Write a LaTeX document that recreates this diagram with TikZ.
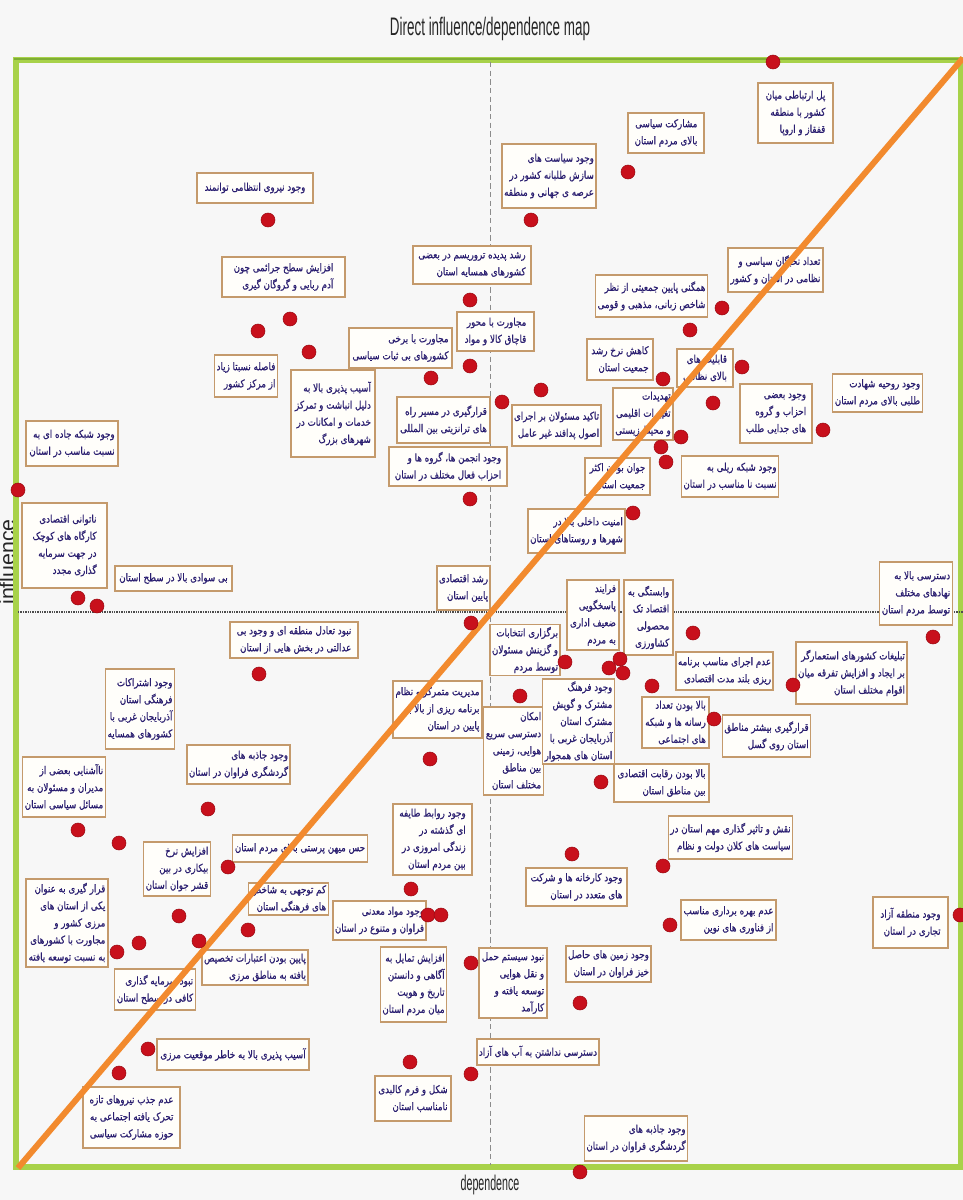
\documentclass[tikz,border=0pt]{standalone}
\usepackage{fontspec}
\TeXXeTstate=1
\newfontfamily\fa[Script=Arabic,FakeStretch=0.82,FakeBold=0.6]{DejaVu Sans}
\newfontfamily\ttl[FakeStretch=0.53]{Liberation Sans}
\newfontfamily\axf[FakeStretch=0.5]{Liberation Sans}
\newfontfamily\axg{Liberation Sans}
\newcommand\rl[1]{\beginR#1\endR}
\definecolor{bgc}{HTML}{F7F7F7}
\definecolor{framec}{HTML}{A8D24A}
\definecolor{framedk}{HTML}{7FAE35}
\definecolor{boxc}{HTML}{C49A6C}
\definecolor{boxfill}{HTML}{FFFEFA}
\definecolor{txtc}{HTML}{2A1E70}
\definecolor{dotc}{HTML}{C8101C}
\definecolor{dotdk}{HTML}{9A0A12}
\definecolor{linec}{HTML}{F28A2E}
\tikzset{
  lab/.style={draw=boxc,line width=0.9pt,fill=boxfill,text=txtc,align=right,
    font=\fa\fontsize{8}{12.8}\selectfont,inner sep=1.5pt},
  dot/.style={circle,fill=dotc,draw=dotdk,line width=0.4pt,minimum size=10.5pt,inner sep=0pt},
}
\newcommand\lbox[6]{\node[lab,minimum width={(#4-#2)*0.75pt},minimum height={(#5-#3)*0.75pt}] (#1) at ({(#2+#4)/2},{(#3+#5)/2}) {#6};}
\newcommand\dt[3]{\node[dot] (#1) at (#2,#3) {};}
\begin{document}
\begin{tikzpicture}[x=0.75pt,y=-0.75pt]
\fill[bgc] (0,0) rectangle (963,1200);
\useasboundingbox (0,0) rectangle (963,1200);
% title and axis names
\node[font=\ttl\fontsize{19}{22}\selectfont,text=black!85] (title) at (490,29) {Direct influence/dependence map};
\node[font=\axf\fontsize{16}{18}\selectfont,text=black!85] (dep) at (490,1185) {dependence};
\node[font=\axg\fontsize{16}{18}\selectfont,text=black!85,rotate=90] (inf) at (7,562) {influence};
% frame
\coordinate (tl) at (16,60); \coordinate (br) at (961,1167);
\draw[framec,line width=4pt] (tl) rectangle (br);
\draw[framedk,line width=1.5pt] (14,58.5) -- (963,58.5);
% axes
\coordinate (vt) at (490,62); \coordinate (vb) at (490,1165);
\coordinate (hl) at (18,612); \coordinate (hr) at (963,612);
\draw[black!45,line width=0.6pt,dash pattern=on 4pt off 2.5pt] (vt) -- (vb);
\draw[black!70,line width=0.9pt,dash pattern=on 1pt off 0.8pt] (hl) -- (hr);
% labels
\lbox{l1}{197}{173}{313}{203}{\rl{وجود نیروی انتظامی توانمند}}
\lbox{l2}{222}{257}{345}{297}{\rl{افزایش سطح جرائمی چون}\\\rl{آدم ربایی و گروگان گیری}}
\lbox{l3}{758}{83}{833}{143}{\rl{پل ارتباطی میان}\\\rl{کشور با منطقه}\\\rl{قفقاز و اروپا}}
\lbox{l4}{628}{113}{704}{153}{\rl{مشارکت سیاسی}\\\rl{بالای مردم استان}}
\lbox{l5}{502}{144}{596}{208}{\rl{وجود سیاست های}\\\rl{سازش طلبانه کشور در}\\\rl{عرصه ی جهانی و منطقه}}
\lbox{l6}{413}{246}{531}{284}{\rl{رشد پدیده تروریسم در بعضی}\\\rl{کشورهای همسایه استان}}
\lbox{l7}{728}{248}{823}{292}{\rl{تعداد نخبگان سیاسی و}\\\rl{نظامی در استان و کشور}}
\lbox{l8}{597}{275}{706}{317}{\rl{همگنی پایین جمعیتی از نظر}\\\rl{شاخص زبانی، مذهبی و قومی}}
\lbox{l9}{587}{339}{653}{380}{\rl{کاهش نرخ رشد}\\\rl{جمعیت استان}}
\lbox{l10}{677}{349}{733}{387}{\rl{قابلیت های}\\\rl{بالای نظامی}}
\lbox{l11}{613}{388}{673}{440}{\rl{تهدیدات}\\\rl{تغییرات اقلیمی}\\\rl{و محیط زیستی}}
\lbox{l12}{740}{384}{812}{443}{\rl{وجود بعضی}\\\rl{احزاب و گروه}\\\rl{های جدایی طلب}}
\lbox{l13}{833}{374}{922}{412}{\rl{وجود روحیه شهادت}\\\rl{طلبی بالای مردم استان}}
\lbox{l14}{682}{456}{778}{497}{\rl{وجود شبکه ریلی به}\\\rl{نسبت نا مناسب در استان}}
\lbox{l15}{585}{458}{650}{495}{\rl{جوان بودن اکثر}\\\rl{جمعیت استان}}
\lbox{l16}{528}{509}{625}{553}{\rl{امنیت داخلی بالا در}\\\rl{شهرها و روستاهای استان}}
\lbox{l17}{513}{405}{600}{446}{\rl{تاکید مسئولان بر اجرای}\\\rl{اصول پدافند غیر عامل}}
\lbox{l18}{397}{397}{490}{443}{\rl{قرارگیری در مسیر راه}\\\rl{های ترانزیتی بین المللی}}
\lbox{l19}{389}{447}{507}{486}{\rl{وجود انجمن ها، گروه ها و}\\\rl{احزاب فعال مختلف در استان}}
\lbox{l20}{457}{312}{534}{351}{\rl{مجاورت با محور}\\\rl{قاچاق کالا و مواد}}
\lbox{l21}{349}{328}{452}{368}{\rl{مجاورت با برخی}\\\rl{کشورهای بی ثبات سیاسی}}
\lbox{l22}{291}{370}{375}{457}{\rl{آسیب پذیری بالا به}\\\rl{دلیل انباشت و تمرکز}\\\rl{خدمات و امکانات در}\\\rl{شهرهای بزرگ}}
\lbox{l23}{215}{355}{277}{397}{\rl{فاصله نسبتا زیاد}\\\rl{از مرکز کشور}}
\lbox{l24}{26}{421}{118}{466}{\rl{وجود شبکه جاده ای به}\\\rl{نسبت مناسب در استان}}
\lbox{l25}{22}{503}{107}{588}{\rl{ناتوانی اقتصادی}\\\rl{کارگاه های کوچک}\\\rl{در جهت سرمایه}\\\rl{گذاری مجدد}}
\lbox{l26}{115}{566}{232}{591}{\rl{بی سوادی بالا در سطح استان}}
\lbox{l27}{440}{566}{487}{610}{\rl{رشد اقتصادی}\\\rl{پایین استان}}
\lbox{l28}{880}{562}{952}{625}{\rl{دسترسی بالا به}\\\rl{نهادهای مختلف}\\\rl{توسط مردم استان}}
\lbox{l29}{567}{580}{619}{650}{\rl{فرایند}\\\rl{پاسخگویی}\\\rl{ضعیف اداری}\\\rl{به مردم}}
\lbox{l30}{624}{580}{673}{655}{\rl{وابستگی به}\\\rl{اقتصاد تک}\\\rl{محصولی}\\\rl{کشاورزی}}
\lbox{l31}{493}{625}{557}{675}{\rl{برگزاری انتخابات}\\\rl{و گزینش مسئولان}\\\rl{توسط مردم}}
\lbox{l32}{230}{622}{358}{658}{\rl{نبود تعادل منطقه ای و وجود بی}\\\rl{عدالتی در بخش هایی از استان}}
\lbox{l33}{393}{681}{482}{738}{\rl{مدیریت متمرکز و نظام}\\\rl{برنامه ریزی از بالا به}\\\rl{پایین در استان}}
\lbox{l34}{488}{707}{539}{795}{\rl{امکان}\\\rl{دسترسی سریع}\\\rl{هوایی، زمینی}\\\rl{بین مناطق}\\\rl{مختلف استان}}
\lbox{l35}{544}{679}{613}{764}{\rl{وجود فرهنگ}\\\rl{مشترک و گویش}\\\rl{مشترک استان}\\\rl{آذربایجان غربی با}\\\rl{استان های همجوار}}
\lbox{l36}{642}{697}{709}{748}{\rl{بالا بودن تعداد}\\\rl{رسانه ها و شبکه}\\\rl{های اجتماعی}}
\lbox{l37}{676}{652}{773}{690}{\rl{عدم اجرای مناسب برنامه}\\\rl{ریزی بلند مدت اقتصادی}}
\lbox{l38}{807}{642}{896}{704}{\rl{تبلیغات کشورهای استعمارگر}\\\rl{بر ایجاد و افزایش تفرقه میان}\\\rl{اقوام مختلف استان}}
\lbox{l39}{724}{715}{809}{757}{\rl{قرارگیری بیشتر مناطق}\\\rl{استان روی گسل}}
\lbox{l40}{614}{764}{709}{802}{\rl{بالا بودن رقابت اقتصادی}\\\rl{بین مناطق استان}}
\lbox{l41}{669}{816}{792}{859}{\rl{نقش و تاثیر گذاری مهم استان در}\\\rl{سیاست های کلان دولت و نظام}}
\lbox{l42}{526}{868}{627}{906}{\rl{وجود کارخانه ها و شرکت}\\\rl{های متعدد در استان}}
\lbox{l43}{393}{804}{472}{875}{\rl{وجود روابط طایفه}\\\rl{ای گذشته در}\\\rl{زندگی امروزی در}\\\rl{بین مردم استان}}
\lbox{l44}{238}{835}{362}{862}{\rl{حس میهن پرستی بالای مردم استان}}
\lbox{l45}{144}{842}{210}{896}{\rl{افزایش نرخ}\\\rl{بیکاری در بین}\\\rl{قشر جوان استان}}
\lbox{l46}{26}{757}{102}{817}{\rl{ناآشنایی بعضی از}\\\rl{مدیران و مسئولان به}\\\rl{مسائل سیاسی استان}}
\lbox{l47}{107}{669}{173}{749}{\rl{وجود اشتراکات}\\\rl{فرهنگی استان}\\\rl{آذربایجان غربی با}\\\rl{کشورهای همسایه}}
\lbox{l48}{188}{745}{289}{784}{\rl{وجود جاذبه های}\\\rl{گردشگری فراوان در استان}}
\lbox{l49}{253}{883}{324}{915}{\rl{کم توجهی به شاخص}\\\rl{های فرهنگی استان}}
\lbox{l50}{26}{879}{108}{967}{\rl{قرار گیری به عنوان}\\\rl{یکی از استان های}\\\rl{مرزی کشور و}\\\rl{مجاورت با کشورهای}\\\rl{به نسبت توسعه یافته}}
\lbox{l51}{337}{901}{422}{940}{\rl{وجود مواد معدنی}\\\rl{فراوان و متنوع در استان}}
\lbox{l52}{202}{950}{308}{985}{\rl{پایین بودن اعتبارات تخصیص}\\\rl{یافته به مناطق مرزی}}
\lbox{l53}{117}{969}{193}{1010}{\rl{نبود سرمایه گذاری}\\\rl{کافی در سطح استان}}
\lbox{l54}{157}{1039}{309}{1070}{\rl{آسیب پذیری بالا به خاطر موقعیت مرزی}}
\lbox{l55}{83}{1087}{180}{1148}{\rl{عدم جذب نیروهای تازه}\\\rl{تحرک یافته اجتماعی به}\\\rl{حوزه مشارکت سیاسی}}
\lbox{l56}{382}{947}{445}{1022}{\rl{افزایش تمایل به}\\\rl{آگاهی و دانستن}\\\rl{تاریخ و هویت}\\\rl{میان مردم استان}}
\lbox{l57}{479}{948}{547}{1018}{\rl{نبود سیستم حمل}\\\rl{و نقل هوایی}\\\rl{توسعه یافته و}\\\rl{کارآمد}}
\lbox{l58}{567}{946}{650}{982}{\rl{وجود زمین های حاصل}\\\rl{خیز فراوان در استان}}
\lbox{l59}{477}{1039}{599}{1065}{\rl{دسترسی نداشتن به آب های آزاد}}
\lbox{l60}{375}{1076}{451}{1121}{\rl{شکل و فرم کالبدی}\\\rl{نامناسب استان}}
\lbox{l61}{588}{1116}{684}{1161}{\rl{وجود جاذبه های}\\\rl{گردشگری فراوان در استان}}
\lbox{l62}{873}{897}{948}{948}{\rl{وجود منطقه آزاد}\\\rl{تجاری در استان}}
\lbox{l63}{681}{900}{776}{940}{\rl{عدم بهره برداری مناسب}\\\rl{از فناوری های نوین}}
% diagonal
\coordinate (dA) at (18,1168); \coordinate (dB) at (963,58);
\draw[linec,line width=4.5pt] (dA) -- (dB);
% dots
\dt{d1}{773}{62} \dt{d2}{628}{172} \dt{d3}{531}{220} \dt{d4}{268}{220}
\dt{d5}{470}{300} \dt{d6}{290}{319} \dt{d7}{258}{331} \dt{d8}{309}{352}
\dt{d9}{470}{366} \dt{d10}{431}{378} \dt{d11}{722}{308} \dt{d12}{690}{330}
\dt{d13}{663}{379} \dt{d14}{742}{367} \dt{d15}{713}{403} \dt{d16}{681}{437}
\dt{d17}{661}{447} \dt{d18}{666}{462} \dt{d19}{823}{430} \dt{d20}{541}{390}
\dt{d21}{502}{402} \dt{d22}{470}{499} \dt{d23}{633}{513} \dt{d24}{18}{490}
\dt{d25}{78}{598} \dt{d26}{97}{606} \dt{d27}{471}{623} \dt{d28}{933}{637}
\dt{d29}{620}{659} \dt{d30}{609}{668} \dt{d31}{623}{673} \dt{d32}{565}{662}
\dt{d33}{259}{674} \dt{d34}{430}{759} \dt{d35}{520}{696} \dt{d36}{601}{782}
\dt{d37}{652}{686} \dt{d38}{693}{633} \dt{d39}{793}{685} \dt{d40}{714}{719}
\dt{d41}{663}{866} \dt{d42}{572}{854} \dt{d43}{411}{889} \dt{d44}{228}{867}
\dt{d45}{179}{916} \dt{d46}{78}{830} \dt{d47}{119}{843} \dt{d48}{208}{809}
\dt{d49}{248}{930} \dt{d50}{117}{952} \dt{d51}{139}{943} \dt{d52}{428}{915}
\dt{d53}{441}{915} \dt{d54}{199}{941} \dt{d55}{148}{1049} \dt{d56}{119}{1073}
\dt{d57}{471}{963} \dt{d58}{580}{1003} \dt{d59}{471}{1074} \dt{d60}{410}{1062}
\dt{d61}{580}{1172} \dt{d62}{960}{915} \dt{d63}{670}{925}
\end{tikzpicture}
\end{document}
